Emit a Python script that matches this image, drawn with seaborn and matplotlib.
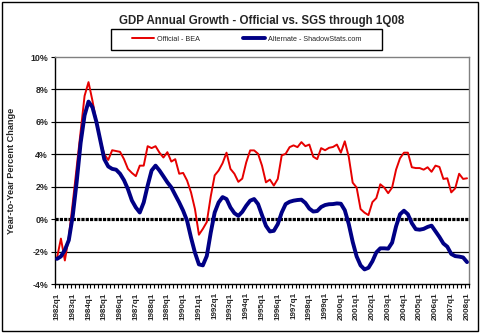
import matplotlib
matplotlib.use("Agg")
import matplotlib.pyplot as plt
import numpy as np
import pandas as pd
import seaborn as sns
from matplotlib.patches import Rectangle
from matplotlib.lines import Line2D

# Quarterly labels 1982q1 .. 2008q1
years = list(range(1982, 2009))
quarters = [f"{y}q{q}" for y in years for q in range(1, 5)][:105]

# Year-over-year real GDP growth, percent
official_bea = [
    -2.40, -1.20, -2.55, -1.10, 1.00, 3.20, 5.40, 7.60, 8.45, 7.30,
    6.00, 4.85, 4.00, 3.65, 4.25, 4.20, 4.15, 3.70, 3.10, 2.85,
    2.65, 3.30, 3.30, 4.50, 4.38, 4.50, 4.10, 3.80, 4.13, 3.55,
    3.70, 2.80, 2.85, 2.38, 1.65, 0.62, -0.96, -0.60, -0.18, 1.40,
    2.70, 3.00, 3.45, 4.10, 3.10, 2.80, 2.30, 2.50, 3.50, 4.24,
    4.24, 4.03, 3.30, 2.27, 2.44, 2.07, 2.48, 3.93, 4.03, 4.44,
    4.55, 4.44, 4.75, 4.50, 4.60, 3.85, 3.70, 4.38, 4.25, 4.40,
    4.45, 4.60, 4.10, 4.80, 3.85, 2.25, 1.95, 0.62, 0.40, 0.25,
    1.05, 1.30, 2.15, 1.95, 1.60, 1.95, 3.05, 3.75, 4.10, 4.10,
    3.20, 3.15, 3.15, 3.05, 3.20, 2.92, 3.30, 3.22, 2.48, 2.52,
    1.65, 1.90, 2.80, 2.48, 2.52,
]
alternate_sgs = [
    -2.45, -2.30, -1.90, -1.30, 0.20, 2.30, 4.70, 6.40, 7.25, 6.90,
    6.00, 4.85, 3.70, 3.25, 3.10, 3.05, 2.80, 2.40, 1.85, 1.15,
    0.72, 0.41, 1.03, 2.07, 3.00, 3.30, 3.00, 2.64, 2.27, 1.96,
    1.49, 1.03, 0.52, -0.10, -1.14, -2.07, -2.79, -2.85, -2.27, -0.83,
    0.41, 1.03, 1.36, 1.24, 0.72, 0.37, 0.20, 0.45, 0.83, 1.14,
    1.24, 0.93, 0.25, -0.41, -0.76, -0.72, -0.31, 0.41, 0.93, 1.07,
    1.14, 1.18, 1.20, 1.00, 0.65, 0.47, 0.50, 0.75, 0.87, 0.92,
    0.93, 0.97, 0.95, 0.55, -0.30, -1.40, -2.30, -2.85, -3.10, -3.00,
    -2.60, -2.05, -1.80, -1.80, -1.82, -1.45, -0.45, 0.30, 0.52, 0.30,
    -0.25, -0.62, -0.65, -0.60, -0.48, -0.40, -0.75, -1.10, -1.50, -1.70,
    -2.15, -2.28, -2.31, -2.36, -2.65,
]

series_names = ["Official - BEA", "Alternate - ShadowStats.com"]
series_colors = ["#E60000", "#000085"]
series_widths = [1.4, 2.8]
y_ticks = [-4, -2, 0, 2, 4, 6, 8, 10]

sns.set_theme(style="white")
plt.rcParams["font.family"] = ["Liberation Sans", "DejaVu Sans"]

df = pd.DataFrame({
    "pos": list(range(len(quarters))) * 2,
    "value": official_bea + alternate_sgs,
    "series": [series_names[0]] * len(quarters) + [series_names[1]] * len(quarters),
})

fig = plt.figure(figsize=(4.81, 3.34), dpi=100)
ax = fig.add_axes([55 / 481, 50 / 334, 414 / 481, 227 / 334])

# horizontal gridlines and the bold dotted zero line
for v in y_ticks[1:-1]:
    if v == 0:
        ax.axhline(v, color="black", lw=2.3, ls=(0, (1.0, 0.35)), zorder=1)
    else:
        ax.axhline(v, color="black", lw=0.9, zorder=1)

for name, color, lw in zip(series_names, series_colors, series_widths):
    sns.lineplot(data=df[df["series"] == name], x="pos", y="value",
                 color=color, linewidth=lw, ax=ax, legend=False, zorder=3)

ax.set_xlim(-0.5, len(quarters) - 0.5)
ax.set_ylim(y_ticks[0], y_ticks[-1])
ax.set_yticks(y_ticks)
ax.set_yticklabels([f"{v}%" for v in y_ticks], fontsize=6.4, fontweight="bold")
ax.set_xticks(range(0, len(quarters), 4))
ax.set_xticklabels(quarters[::4], rotation=90, fontsize=5.8, fontweight="bold")
ax.set_xticks(np.arange(-0.5, len(quarters), 1), minor=True)
ax.tick_params(axis="x", which="major", length=0, pad=6)
ax.tick_params(axis="x", which="minor", length=3, width=0.8, color="black", direction="out")
ax.tick_params(axis="y", which="major", length=3, width=0.8, color="black", direction="out", pad=2)
ax.xaxis.set_ticks_position("bottom")
ax.yaxis.set_ticks_position("left")
ax.set_xlabel("")
ax.set_ylabel("")

for side in ["left", "bottom"]:
    ax.spines[side].set_color("black")
    ax.spines[side].set_linewidth(1.0)
for side in ["top", "right"]:
    ax.spines[side].set_color("#808080")
    ax.spines[side].set_linewidth(1.0)

fig.text(12 / 481, 1 - 170.5 / 334, "Year-to-Year Percent Change", rotation=90,
         ha="center", va="center", fontsize=6.6, fontweight="bold")
fig.text(262 / 481, 1 - 21 / 334, "GDP Annual Growth - Official vs. SGS through 1Q08",
         ha="center", va="center", fontsize=8.3, fontweight="bold")

# legend box
fig.patches.append(Rectangle((111 / 481, 1 - 50 / 334), 271 / 481, 21 / 334,
                             transform=fig.transFigure, fill=False,
                             edgecolor="black", lw=1.0))
handles = [Line2D([], [], color=c, lw=w) for c, w in zip(series_colors, series_widths)]
fig.legend(handles, series_names, ncol=2, frameon=False, loc="center",
           bbox_to_anchor=(246.5 / 481, 1 - 39.5 / 334), fontsize=5.2,
           handlelength=3.0, handletextpad=0.4, columnspacing=6.0)

# outer border of the chart
fig.patches.append(Rectangle((2 / 481, 3 / 334), 476 / 481, 329 / 334,
                             transform=fig.transFigure, fill=False,
                             edgecolor="black", lw=1.0))

fig.savefig("out.png", dpi=100)
